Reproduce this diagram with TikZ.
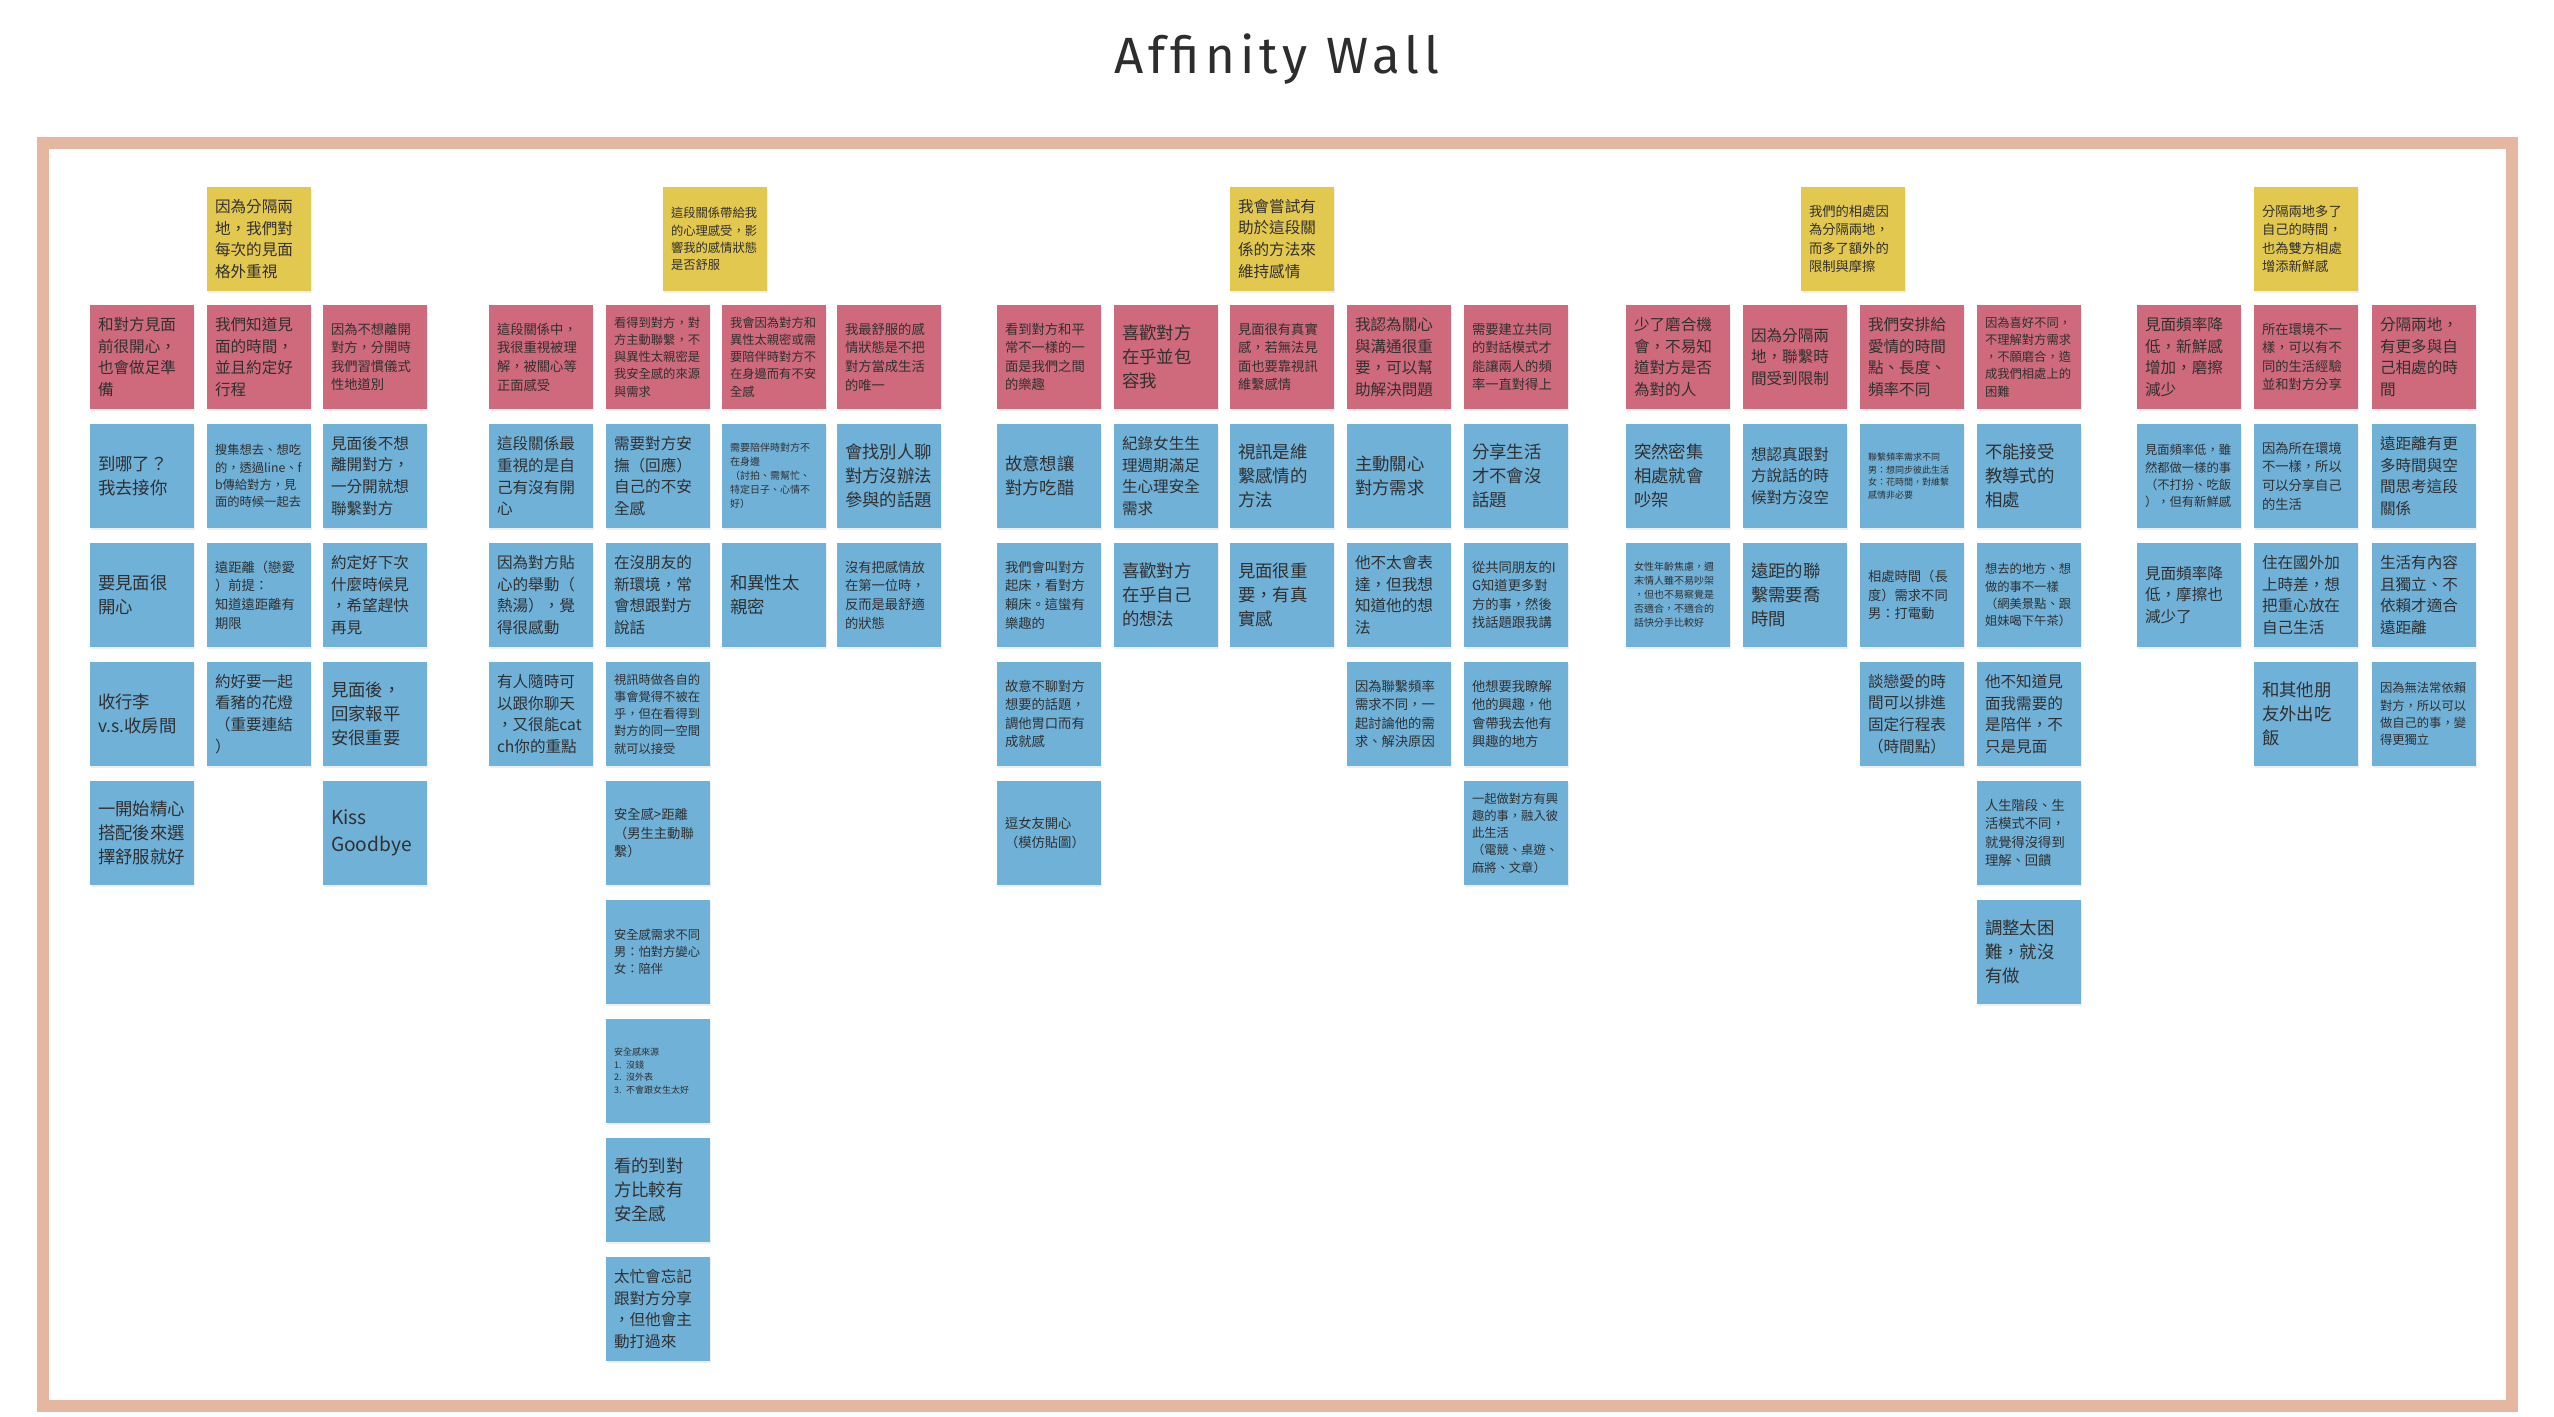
\documentclass[tikz,border=0pt]{standalone}
\usepackage{fontspec}
\usetikzlibrary{shadows}
\newfontfamily\cjk{Noto Sans CJK TC}
\newfontfamily\titlefont[LetterSpace=10]{Fira Sans}
\definecolor{ycol}{RGB}{227,200,80}
\definecolor{rcol}{RGB}{206,106,124}
\definecolor{bcol}{RGB}{112,177,216}
\definecolor{framecol}{RGB}{230,183,160}
\definecolor{notetext}{RGB}{48,48,48}
\definecolor{titletext}{RGB}{45,45,45}
\tikzset{
  note/.style={draw=none, minimum width=52pt, minimum height=52pt, text width=44pt,
    inner xsep=4pt, inner ysep=0pt, align=left, text=notetext,
    drop shadow={shadow xshift=0.3pt, shadow yshift=-0.8pt, opacity=0.13}},
  ynote/.style={note, fill=ycol},
  rnote/.style={note, fill=rcol},
  bnote/.style={note, fill=bcol},
  fxl/.style={font=\cjk\fontsize{8.7}{12.1}\selectfont},
  fl/.style={font=\cjk\fontsize{7.8}{10.9}\selectfont},
  fm/.style={font=\cjk\fontsize{6.65}{9.3}\selectfont},
  fs/.style={font=\cjk\fontsize{6.15}{8.6}\selectfont},
  fxs/.style={font=\cjk\fontsize{5}{7}\selectfont},
  fxxs/.style={font=\cjk\fontsize{4.5}{6.3}\selectfont},
  frame/.style={draw=framecol, line width=6pt},
}
\begin{document}
\begin{tikzpicture}[x=0.5pt,y=-0.5pt]
\useasboundingbox (0,0) rectangle (2554,1417);
\fill[white] (0,0) rectangle (2554,1417);
\node[font=\titlefont\fontsize{25.5}{30}\selectfont, text=titletext, anchor=base] (title) at (1277,74) {Affinity Wall};
\draw[frame] (43,143) rectangle (2512,1406);

% ---------------- Group 1 ----------------
\node[ynote,fl] (g1y) at (259,239) {因為分隔兩\\地，我們對\\每次的見面\\格外重視};
\node[rnote,fl] (g1r1) at (142,357) {和對方見面\\前很開心，\\也會做足準\\備};
\node[rnote,fl] (g1r2) at (259,357) {我們知道見\\面的時間，\\並且約定好\\行程};
\node[rnote,fm] (g1r3) at (375,357) {因為不想離開\\對方，分開時\\我們習慣儀式\\性地道別};
\node[bnote,fxl] (g1b11) at (142,476) {到哪了？\\我去接你};
\node[bnote,fs] (g1b21) at (259,476) {搜集想去、想吃\\的，透過line、f\\b傳給對方，見\\面的時候一起去};
\node[bnote,fl] (g1b31) at (375,476) {見面後不想\\離開對方，\\一分開就想\\聯繫對方};
\node[bnote,fxl] (g1b12) at (142,595) {要見面很\\開心};
\node[bnote,fm] (g1b22) at (259,595) {遠距離（戀愛\\）前提：\\知道遠距離有\\期限};
\node[bnote,fl] (g1b32) at (375,595) {約定好下次\\什麼時候見\\，希望趕快\\再見};
\node[bnote,fxl] (g1b13) at (142,714) {收行李\\v.s.收房間};
\node[bnote,fl] (g1b23) at (259,714) {約好要一起\\看豬的花燈\\（重要連結\\）};
\node[bnote,fxl] (g1b33) at (375,714) {見面後，\\回家報平\\安很重要};
\node[bnote,fxl] (g1b14) at (142,833) {一開始精心\\搭配後來選\\擇舒服就好};
\node[bnote,font=\cjk\fontsize{9.6}{13.2}\selectfont] (g1b34) at (375,833) {Kiss\\Goodbye};

% ---------------- Group 2 ----------------
\node[ynote,fs] (g2y) at (715,239) {這段關係帶給我\\的心理感受，影\\響我的感情狀態\\是否舒服};
\node[rnote,fm] (g2r1) at (541,357) {這段關係中，\\我很重視被理\\解，被關心等\\正面感受};
\node[rnote,fs] (g2r2) at (658,357) {看得到對方，對\\方主動聯繫，不\\與異性太親密是\\我安全感的來源\\與需求};
\node[rnote,fs] (g2r3) at (774,357) {我會因為對方和\\異性太親密或需\\要陪伴時對方不\\在身邊而有不安\\全感};
\node[rnote,fm] (g2r4) at (889,357) {我最舒服的感\\情狀態是不把\\對方當成生活\\的唯一};
\node[bnote,fl] (g2b11) at (541,476) {這段關係最\\重視的是自\\己有沒有開\\心};
\node[bnote,fl] (g2b21) at (658,476) {需要對方安\\撫（回應）\\自己的不安\\全感};
\node[bnote,fxs] (g2b31) at (774,476) {需要陪伴時對方不\\在身邊\\（討拍、需幫忙、\\特定日子、心情不\\好）};
\node[bnote,fxl] (g2b41) at (889,476) {會找別人聊\\對方沒辦法\\參與的話題};
\node[bnote,fl] (g2b12) at (541,595) {因為對方貼\\心的舉動（\\熱湯），覺\\得很感動};
\node[bnote,fl] (g2b22) at (658,595) {在沒朋友的\\新環境，常\\會想跟對方\\說話};
\node[bnote,fxl] (g2b32) at (774,595) {和異性太\\親密};
\node[bnote,fm] (g2b42) at (889,595) {沒有把感情放\\在第一位時，\\反而是最舒適\\的狀態};
\node[bnote,fl] (g2b13) at (541,714) {有人隨時可\\以跟你聊天\\，又很能cat\\ch你的重點};
\node[bnote,fs] (g2b23) at (658,714) {視訊時做各自的\\事會覺得不被在\\乎，但在看得到\\對方的同一空間\\就可以接受};
\node[bnote,fm] (g2b24) at (658,833) {安全感>距離\\（男生主動聯\\繫）};
\node[bnote,fs] (g2b25) at (658,952) {安全感需求不同\\男：怕對方變心\\女：陪伴};
\node[bnote,fxxs] (g2b26) at (658,1071) {安全感來源\\1. 沒錢\\2. 沒外表\\3. 不會跟女生太好};
\node[bnote,fxl] (g2b27) at (658,1190) {看的到對\\方比較有\\安全感};
\node[bnote,fl] (g2b28) at (658,1309) {太忙會忘記\\跟對方分享\\，但他會主\\動打過來};

% ---------------- Group 3 ----------------
\node[ynote,fl] (g3y) at (1282,239) {我會嘗試有\\助於這段關\\係的方法來\\維持感情};
\node[rnote,fm] (g3r1) at (1049,357) {看到對方和平\\常不一樣的一\\面是我們之間\\的樂趣};
\node[rnote,fxl] (g3r2) at (1166,357) {喜歡對方\\在乎並包\\容我};
\node[rnote,fm] (g3r3) at (1282,357) {見面很有真實\\感，若無法見\\面也要靠視訊\\維繫感情};
\node[rnote,fl] (g3r4) at (1399,357) {我認為關心\\與溝通很重\\要，可以幫\\助解決問題};
\node[rnote,fm] (g3r5) at (1516,357) {需要建立共同\\的對話模式才\\能讓兩人的頻\\率一直對得上};
\node[bnote,fxl] (g3b11) at (1049,476) {故意想讓\\對方吃醋};
\node[bnote,fl] (g3b21) at (1166,476) {紀錄女生生\\理週期滿足\\生心理安全\\需求};
\node[bnote,fxl] (g3b31) at (1282,476) {視訊是維\\繫感情的\\方法};
\node[bnote,fxl] (g3b41) at (1399,476) {主動關心\\對方需求};
\node[bnote,fxl] (g3b51) at (1516,476) {分享生活\\才不會沒\\話題};
\node[bnote,fm] (g3b12) at (1049,595) {我們會叫對方\\起床，看對方\\賴床。這蠻有\\樂趣的};
\node[bnote,fxl] (g3b22) at (1166,595) {喜歡對方\\在乎自己\\的想法};
\node[bnote,fxl] (g3b32) at (1282,595) {見面很重\\要，有真\\實感};
\node[bnote,fl] (g3b42) at (1399,595) {他不太會表\\達，但我想\\知道他的想\\法};
\node[bnote,fm] (g3b52) at (1516,595) {從共同朋友的I\\G知道更多對\\方的事，然後\\找話題跟我講};
\node[bnote,fm] (g3b13) at (1049,714) {故意不聊對方\\想要的話題，\\調他胃口而有\\成就感};
\node[bnote,fm] (g3b43) at (1399,714) {因為聯繫頻率\\需求不同，一\\起討論他的需\\求、解決原因};
\node[bnote,fm] (g3b53) at (1516,714) {他想要我瞭解\\他的興趣，他\\會帶我去他有\\興趣的地方};
\node[bnote,fm] (g3b14) at (1049,833) {逗女友開心\\（模仿貼圖）};
\node[bnote,fs] (g3b54) at (1516,833) {一起做對方有興\\趣的事，融入彼\\此生活\\（電競、桌遊、\\麻將、文章）};

% ---------------- Group 4 ----------------
\node[ynote,fm] (g4y) at (1853,239) {我們的相處因\\為分隔兩地，\\而多了額外的\\限制與摩擦};
\node[rnote,fl] (g4r1) at (1678,357) {少了磨合機\\會，不易知\\道對方是否\\為對的人};
\node[rnote,fl] (g4r2) at (1795,357) {因為分隔兩\\地，聯繫時\\間受到限制};
\node[rnote,fl] (g4r3) at (1912,357) {我們安排給\\愛情的時間\\點、長度、\\頻率不同};
\node[rnote,fs] (g4r4) at (2029,357) {因為喜好不同，\\不理解對方需求\\，不願磨合，造\\成我們相處上的\\困難};
\node[bnote,fxl] (g4b11) at (1678,476) {突然密集\\相處就會\\吵架};
\node[bnote,fl] (g4b21) at (1795,476) {想認真跟對\\方說話的時\\候對方沒空};
\node[bnote,fxxs] (g4b31) at (1912,476) {聯繫頻率需求不同\\男：想同步彼此生活\\女：花時間，對維繫\\感情非必要};
\node[bnote,fxl] (g4b41) at (2029,476) {不能接受\\教導式的\\相處};
\node[bnote,fxs] (g4b12) at (1678,595) {女性年齡焦慮，週\\末情人雖不易吵架\\，但也不易察覺是\\否適合，不適合的\\話快分手比較好};
\node[bnote,fxl] (g4b22) at (1795,595) {遠距的聯\\繫需要喬\\時間};
\node[bnote,fm] (g4b32) at (1912,595) {相處時間（長\\度）需求不同\\男：打電動};
\node[bnote,fs] (g4b42) at (2029,595) {想去的地方、想\\做的事不一樣\\（網美景點、跟\\姐妹喝下午茶）};
\node[bnote,fl] (g4b33) at (1912,714) {談戀愛的時\\間可以排進\\固定行程表\\（時間點）};
\node[bnote,fl] (g4b43) at (2029,714) {他不知道見\\面我需要的\\是陪伴，不\\只是見面};
\node[bnote,fm] (g4b44) at (2029,833) {人生階段、生\\活模式不同，\\就覺得沒得到\\理解、回饋};
\node[bnote,fxl] (g4b45) at (2029,952) {調整太困\\難，就沒\\有做};

% ---------------- Group 5 ----------------
\node[ynote,fm] (g5y) at (2306,239) {分隔兩地多了\\自己的時間，\\也為雙方相處\\增添新鮮感};
\node[rnote,fl] (g5r1) at (2189,357) {見面頻率降\\低，新鮮感\\增加，磨擦\\減少};
\node[rnote,fm] (g5r2) at (2306,357) {所在環境不一\\樣，可以有不\\同的生活經驗\\並和對方分享};
\node[rnote,fl] (g5r3) at (2424,357) {分隔兩地，\\有更多與自\\己相處的時\\間};
\node[bnote,fs] (g5b11) at (2189,476) {見面頻率低，雖\\然都做一樣的事\\（不打扮、吃飯\\），但有新鮮感};
\node[bnote,fm] (g5b21) at (2306,476) {因為所在環境\\不一樣，所以\\可以分享自己\\的生活};
\node[bnote,fl] (g5b31) at (2424,476) {遠距離有更\\多時間與空\\間思考這段\\關係};
\node[bnote,fl] (g5b12) at (2189,595) {見面頻率降\\低，摩擦也\\減少了};
\node[bnote,fl] (g5b22) at (2306,595) {住在國外加\\上時差，想\\把重心放在\\自己生活};
\node[bnote,fl] (g5b32) at (2424,595) {生活有內容\\且獨立、不\\依賴才適合\\遠距離};
\node[bnote,fxl] (g5b23) at (2306,714) {和其他朋\\友外出吃\\飯};
\node[bnote,fs] (g5b33) at (2424,714) {因為無法常依賴\\對方，所以可以\\做自己的事，變\\得更獨立};
\end{tikzpicture}
\end{document}
